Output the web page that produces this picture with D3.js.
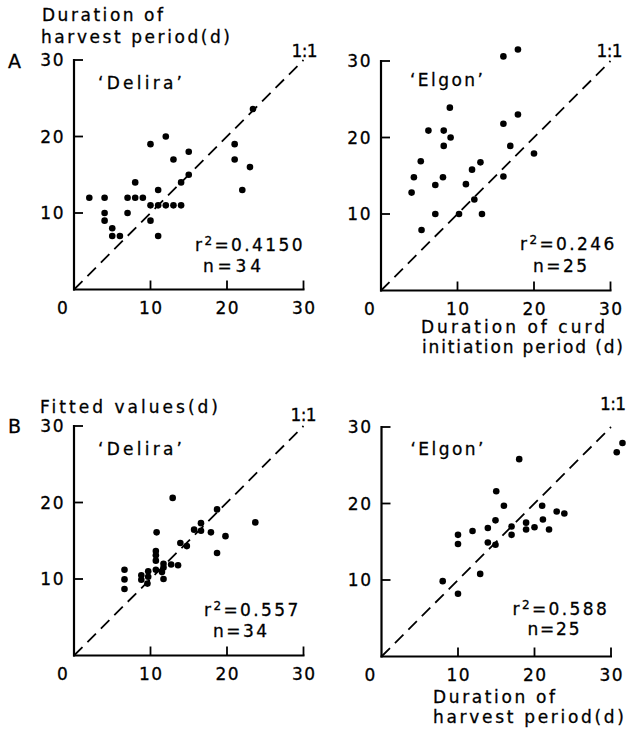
<!DOCTYPE html>
<html>
<head>
<meta charset="utf-8">
<script src="https://cdn.jsdelivr.net/npm/d3@7"></script>
<style>
  html, body { margin: 0; padding: 0; background: #fff; }
  svg { display: block; }
  text { font-family: "DejaVu Sans", sans-serif; font-size: 17px; fill: #000; stroke: #000; stroke-width: 0.3px; }
</style>
</head>
<body>
<svg id="chart" width="627" height="730"></svg>
<script>
// A: duration of curd initiation period (x) vs duration of harvest period (y), days
const curdDelira    = [2, 4, 4, 4, 5, 5, 6, 7, 8, 9, 7, 8, 10, 11, 12, 13, 14, 10, 11, 11, 14, 15, 13, 10, 12, 15, 21, 21, 23, 22, 23.4];
const harvestDelira = [12, 12, 10, 9, 8, 7, 7, 12, 12, 12, 10, 14, 11, 11, 11, 11, 11, 9, 13, 7, 14, 15, 17, 19, 20, 18, 19, 17, 16, 13, 23.6];

const curdElgon    = [4, 4.3, 5.2, 5.3, 6.2, 7.1, 7.1, 8.1, 8.2, 8.2, 9, 9.1, 10.2, 11.1, 11.9, 12.2, 13, 13.2, 16, 16, 16, 16.9, 17.9, 17.9, 20];
const harvestElgon = [12.8, 14.8, 16.9, 7.9, 20.9, 13.8, 10, 14.8, 18.9, 20.9, 23.9, 20, 10, 13.9, 15.8, 11.9, 16.75, 10, 30.6, 21.8, 14.9, 18.9, 31.5, 23, 17.9];

// B: observed duration of harvest period (x) vs fitted values (y), days
const observedDelira = [12.9, 18.7, 16.6, 15.7, 16.6, 17.9, 19.8, 10.8, 13.9, 14.75, 18.7, 10.7, 10.7, 10.7, 11.7, 11.7, 12.7, 13.6, 10.7, 11.5, 11.7, 9.7, 9.7, 9.6, 8.8, 8.8, 6.6, 6.6, 6.6, 23.7];
const fittedDelira   = [20.6, 19.1, 17.3, 16.45, 16.3, 16.1, 15.6, 16.1, 14.7, 14.3, 13.4, 13.65, 13.1, 12.4, 12.0, 11.5, 11.9, 11.8, 11.2, 10.9, 10.0, 11.0, 10.3, 9.4, 10.5, 9.9, 11.2, 9.95, 8.7, 17.4];

const observedElgon = [15, 16, 21, 22.9, 23.9, 14.9, 21.1, 18.9, 18.9, 17, 13.9, 11.9, 10, 10, 13.9, 14.9, 17, 20, 21.9, 8, 10, 12.9, 18, 30.75, 31.5];
const fittedElgon   = [21.6, 19.7, 19.7, 18.95, 18.7, 17.8, 17.9, 17.5, 16.6, 17, 16.8, 16.4, 15.9, 14.7, 14.9, 14.6, 15.9, 16.9, 16.6, 9.85, 8.2, 10.8, 25.8, 26.7, 27.9];

const cultivars = ["Delira", "Elgon", "Delira", "Elgon"];
const r2Values  = ["0.4150", "0.246", "0.557", "0.588"];
const nValues   = [34, 25, 34, 25];
const axisTicks = [10, 20, 30];
const axisDomain = [0, 30];

const svg = d3.select("#chart");
const size = 229.5;

// panel frames and label placement (offsets from the panel's top-left corner, widths in px)
const panels = [
  { x0: 74,    y0: 60,  xs: curdDelira,     ys: harvestDelira, name: [24, 29, 84], r2: [121, 191, 108], n: [129, 212, 58], oneOne: [-12, -3] },
  { x0: 381,   y0: 61,  xs: curdElgon,      ys: harvestElgon,  name: [29, 25, 73], r2: [139, 189, 102], n: [152, 211, 54], oneOne: [-14, -4] },
  { x0: 74,    y0: 426, xs: observedDelira, ys: fittedDelira,  name: [24, 29, 84], r2: [130, 190, 108], n: [139, 211, 54], oneOne: [-13, -5] },
  { x0: 381.5, y0: 427, xs: observedElgon,  ys: fittedElgon,   name: [29, 28, 73], r2: [131, 188, 106], n: [146, 208, 52], oneOne: [-11, -17] }
];

panels.forEach((p, i) => {
  const g = svg.append("g");
  const x = d3.scaleLinear().domain(axisDomain).range([p.x0, p.x0 + size]);
  const y = d3.scaleLinear().domain(axisDomain).range([p.y0 + size, p.y0]);
  const base = y(0), left = x(0), top = y(30);

  // axis lines
  g.append("line").attr("x1", left).attr("x2", left).attr("y1", top - 1).attr("y2", base + 1)
    .attr("stroke", "#000").attr("stroke-width", 2.2);
  g.append("line").attr("x1", left - 1).attr("x2", x(30) + 1).attr("y1", base).attr("y2", base)
    .attr("stroke", "#000").attr("stroke-width", 2.2);

  // inward ticks
  g.selectAll(".yt").data(axisTicks).join("line")
    .attr("x1", left).attr("x2", left + 9).attr("y1", d => y(d)).attr("y2", d => y(d))
    .attr("stroke", "#000").attr("stroke-width", 1.8);
  g.selectAll(".xt").data(axisTicks).join("line")
    .attr("x1", d => x(d)).attr("x2", d => x(d)).attr("y1", base).attr("y2", base - 9)
    .attr("stroke", "#000").attr("stroke-width", 1.8);

  // tick labels
  g.selectAll(".yl").data(axisTicks).join("text")
    .attr("x", left - 9).attr("y", d => y(d)).attr("dy", "0.36em")
    .attr("text-anchor", "end").style("letter-spacing", "1.5px").text(d => d);
  g.selectAll(".xl").data(axisTicks).join("text")
    .attr("x", d => x(d) + 0.8).attr("y", base + 24)
    .attr("text-anchor", "middle").style("letter-spacing", "1.5px").text(d => d);
  g.append("text").attr("x", left - 17).attr("y", base + 24).text("0");

  // 1:1 line
  g.append("line").attr("x1", x(0)).attr("y1", y(0)).attr("x2", x(30)).attr("y2", y(30))
    .attr("stroke", "#000").attr("stroke-width", 1.8).attr("stroke-dasharray", "12,7");
  g.append("text").attr("x", x(30) + p.oneOne[0]).attr("y", top + p.oneOne[1])
    .attr("textLength", 26).attr("lengthAdjust", "spacing").text("1:1");

  // points
  g.selectAll("circle").data(p.xs.map((v, k) => [v, p.ys[k]])).join("circle")
    .attr("cx", d => x(d[0])).attr("cy", d => y(d[1])).attr("r", 3.3).attr("fill", "#000");

  // cultivar name
  g.append("text").attr("x", left + p.name[0]).attr("y", top + p.name[1])
    .attr("textLength", p.name[2]).attr("lengthAdjust", "spacing")
    .text("\u2018" + cultivars[i] + "\u2019");

  // fit statistics
  const r2 = g.append("text").attr("x", left + p.r2[0]).attr("y", top + p.r2[1])
    .style("letter-spacing", "2.4px");
  r2.append("tspan").text("r");
  r2.append("tspan").attr("dy", -6).style("font-size", "12px").text("2");
  r2.append("tspan").attr("dy", 6).text("=" + r2Values[i]);
  g.append("text").attr("x", left + p.n[0]).attr("y", top + p.n[1])
    .attr("textLength", p.n[2]).attr("lengthAdjust", "spacing").text("n=" + nValues[i]);
});

// panel letters
svg.append("text").attr("x", 8).attr("y", 68).style("font-size", "19px").text("A");
svg.append("text").attr("x", 8).attr("y", 433).style("font-size", "19px").text("B");

// axis titles: text, x, baseline, width
const titles = [
  ["Duration of", 42, 21, 121],
  ["harvest period(d)", 41, 43, 189],
  ["Duration of curd", 421, 333, 184],
  ["initiation period (d)", 422, 353, 201],
  ["Fitted values(d)", 40, 413, 178],
  ["Duration of", 433, 703, 122],
  ["harvest period(d)", 433, 723, 191]
];
svg.selectAll(".title").data(titles).join("text")
  .attr("x", d => d[1]).attr("y", d => d[2])
  .attr("textLength", d => d[3]).attr("lengthAdjust", "spacing")
  .text(d => d[0]);
</script>
</body>
</html>
